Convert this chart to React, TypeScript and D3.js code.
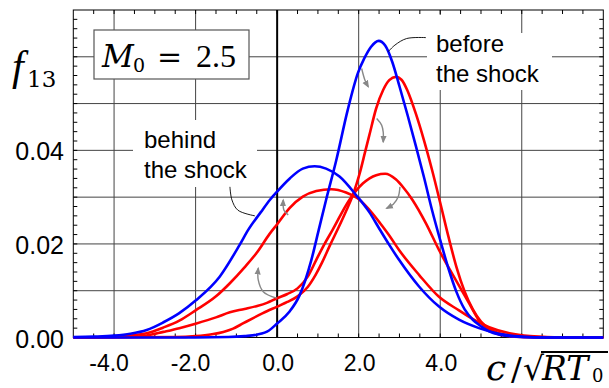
import React, { useRef, useEffect } from "react";
import * as d3 from "d3";

type Pt = [number, number];

// f13 vs c/sqrt(RT0)
const beforeShock: Pt[] = [
  [-5, 0], [-2, 0], [-1.2, 0.0001], [-0.8, 0.0003], [-0.5, 0.0006], [-0.2, 0.0015], [0, 0.003],
  [0.3, 0.0055], [0.55, 0.009], [0.84, 0.0166], [1.02, 0.023], [1.2, 0.0294], [1.45, 0.0379],
  [1.73, 0.0486], [1.98, 0.0565], [2.14, 0.0597], [2.3, 0.0621], [2.49, 0.0634], [2.65, 0.0624],
  [2.82, 0.059], [3.0, 0.0537], [3.2, 0.0475], [3.4, 0.041], [3.6, 0.0343], [3.8, 0.0272],
  [4.0, 0.0208], [4.2, 0.0148], [4.4, 0.0097], [4.6, 0.006], [4.8, 0.0038], [5.0, 0.0024],
  [5.2, 0.0013], [5.45, 0.0006], [5.8, 0.0002], [6.3, 0], [8, 0],
];

const stage1: Pt[] = [
  [-5, 0], [-2.5, 0.0001], [-2, 0.0003], [-1.6, 0.0007], [-1.32, 0.0012], [-1.08, 0.0019],
  [-0.84, 0.003], [-0.6, 0.0041], [-0.35, 0.0052], [0, 0.0066], [0.25, 0.0076], [0.5, 0.0088],
  [0.75, 0.0108], [0.95, 0.0135], [1.1, 0.016], [1.3, 0.0198], [1.5, 0.0234], [1.7, 0.0272],
  [1.85, 0.0303], [1.95, 0.0329], [2.05, 0.0359], [2.15, 0.0394], [2.26, 0.0432], [2.43, 0.049],
  [2.6, 0.0529], [2.75, 0.055], [2.91, 0.0557], [3.05, 0.0551], [3.2, 0.0527], [3.4, 0.0479],
  [3.6, 0.0422], [3.8, 0.0358], [4.0, 0.0288], [4.2, 0.0216], [4.4, 0.015], [4.6, 0.0098],
  [4.8, 0.006], [5.0, 0.0034], [5.2, 0.0019], [5.44, 0.0009], [5.8, 0.0003], [6.3, 0.0001],
  [7, 0], [8, 0],
];

const stage2: Pt[] = [
  [-5, 0], [-3.6, 0.0001], [-3.2, 0.0004], [-2.79, 0.0012], [-2.4, 0.002], [-1.98, 0.003],
  [-1.5, 0.0043], [-1.16, 0.0054], [-0.8, 0.0061], [-0.51, 0.0067], [-0.25, 0.0074], [0, 0.0084],
  [0.25, 0.0093], [0.5, 0.0105], [0.75, 0.013], [0.96, 0.0166], [1.15, 0.0198], [1.36, 0.023],
  [1.77, 0.0294], [2.1, 0.0329], [2.43, 0.0347], [2.65, 0.035], [2.91, 0.0338], [3.1, 0.032],
  [3.32, 0.0294], [3.65, 0.0244], [3.97, 0.0187], [4.38, 0.0123], [4.71, 0.0073], [4.95, 0.0037],
  [5.2, 0.0016], [5.5, 0.0005], [6, 0.0001], [6.5, 0], [8, 0],
];

const stage3: Pt[] = [
  [-5, 0], [-4.2, 0.0001], [-3.6, 0.0004], [-3.2, 0.0009], [-2.8, 0.0021], [-2.4, 0.0036],
  [-2, 0.0058], [-1.5, 0.0088], [-1.16, 0.0116], [-0.8, 0.015], [-0.51, 0.018], [-0.18, 0.0222],
  [0, 0.0242], [0.31, 0.0277], [0.63, 0.0301], [0.96, 0.0313], [1.33, 0.0317], [1.69, 0.031],
  [1.98, 0.0297], [2.34, 0.0265], [2.51, 0.0246], [2.75, 0.0218], [2.99, 0.0187], [3.48, 0.0134],
  [3.97, 0.0087], [4.46, 0.0058], [4.71, 0.0044], [5.2, 0.0022], [5.7, 0.0009], [6.2, 0.0003],
  [7, 0], [8, 0],
];

const behindShock: Pt[] = [
  [-5, 0.0001], [-4.5, 0.0002], [-4, 0.0004], [-3.6, 0.0008], [-3.2, 0.0016], [-2.8, 0.0032],
  [-2.4, 0.0052], [-2, 0.0079], [-1.41, 0.013], [-0.92, 0.0198], [-0.71, 0.023], [-0.4, 0.0268],
  [-0.18, 0.0294], [0, 0.0312], [0.31, 0.034], [0.63, 0.0361], [0.92, 0.0366], [1.2, 0.0361],
  [1.53, 0.0344], [1.94, 0.0304], [2.26, 0.0268], [2.51, 0.0232], [2.75, 0.0198], [2.99, 0.0166],
  [3.48, 0.0109], [3.97, 0.0066], [4.46, 0.0038], [4.95, 0.002], [5.44, 0.0008], [6, 0.0002],
  [6.6, 0], [8, 0],
];

const xTickLabels = [-4, -2, 0, 2, 4];
const yTickLabels = [0, 0.02, 0.04];
const xGrid = [-4, -2, 2, 4, 6];
const yGrid = [0.01, 0.02, 0.03, 0.04, 0.05, 0.06];

// gray evolution arrows (tail -> head), data units
const arrows: Pt[][] = [
  [[2.073, 0.0575], [2.154, 0.055], [2.234, 0.0536]],
  [[2.441, 0.0468], [2.563, 0.0454], [2.602, 0.0439], [2.602, 0.0418]],
  [[3.012, 0.0322], [2.97, 0.0301], [2.848, 0.0285], [2.686, 0.0276]],
  [[0.272, 0.0262], [0.167, 0.0272], [0.15, 0.0294]],
  [[-0.012, 0.0084], [-0.341, 0.0098], [-0.464, 0.0123], [-0.464, 0.0148]],
];

// thin black leader lines from the labels
const leaders: Pt[][] = [
  [[3.65, 0.0641], [3.176, 0.0639], [2.889, 0.0625], [2.725, 0.0611]],
  [[-1.158, 0.0322], [-1.109, 0.0294], [-0.961, 0.0272], [-0.545, 0.026]],
];

const W = 609;
const H = 388;

const App: React.FC = () => {
  const svgRef = useRef<SVGSVGElement | null>(null);

  useEffect(() => {
    document.body.style.margin = "0";
    if (!svgRef.current) return;
    const svg = d3.select(svgRef.current);
    svg.selectAll("*").remove();

    const x = d3.scaleLinear().domain([-5, 8]).range([73.3, 603.3]);
    const y = d3.scaleLinear().domain([0, 0.07]).range([337.5, 10]);
    const [x0, x1] = x.range();
    const [y0, y1] = y.range();

    svg.append("rect").attr("width", W).attr("height", H).attr("fill", "#fff");

    const defs = svg.append("defs");
    defs.append("marker")
      .attr("id", "ah")
      .attr("viewBox", "0 0 10 10")
      .attr("refX", 8).attr("refY", 5)
      .attr("markerWidth", 5.5).attr("markerHeight", 5.5)
      .attr("orient", "auto")
      .append("path").attr("d", "M0,1 L10,5 L0,9 z").attr("fill", "#888");

    // grid
    const grid = svg.append("g").attr("stroke", "#444").attr("stroke-width", 1);
    grid.selectAll("line.v").data(xGrid).join("line")
      .attr("x1", d => x(d)).attr("x2", d => x(d)).attr("y1", y0).attr("y2", y1);
    grid.selectAll("line.h").data(yGrid).join("line")
      .attr("x1", x0).attr("x2", x1).attr("y1", d => y(d)).attr("y2", d => y(d));

    // white label backgrounds that cut the grid
    const bg = svg.append("g").attr("fill", "#fff");
    bg.append("rect").attr("x", 133).attr("y", 120).attr("width", 124).attr("height", 67);
    bg.append("rect").attr("x", 427).attr("y", 15).attr("width", 85).attr("height", 43);
    bg.append("rect").attr("x", 427).attr("y", 33).attr("width", 125).attr("height", 57);

    // zero line
    svg.append("line")
      .attr("x1", x(0)).attr("x2", x(0)).attr("y1", y0).attr("y2", y1)
      .attr("stroke", "#000").attr("stroke-width", 2);

    // frame + minor ticks
    svg.append("rect")
      .attr("x", x0).attr("y", y1).attr("width", x1 - x0).attr("height", y0 - y1)
      .attr("fill", "none").attr("stroke", "#000").attr("stroke-width", 1);
    const ticks = svg.append("g").attr("stroke", "#000").attr("stroke-width", 1);
    const xMinor = d3.range(-4.5, 8, 0.5);
    const yMinor = d3.range(0.002, 0.07, 0.002);
    ticks.selectAll("line.xt").data(xMinor).join("line")
      .attr("x1", d => x(d)).attr("x2", d => x(d)).attr("y1", y1).attr("y2", y1 + 4);
    ticks.selectAll("line.xb").data(xMinor).join("line")
      .attr("x1", d => x(d)).attr("x2", d => x(d)).attr("y1", y0).attr("y2", y0 - 4);
    ticks.selectAll("line.yl").data(yMinor).join("line")
      .attr("x1", x0).attr("x2", x0 + 4).attr("y1", d => y(d)).attr("y2", d => y(d));
    ticks.selectAll("line.yr").data(yMinor).join("line")
      .attr("x1", x1).attr("x2", x1 - 4).attr("y1", d => y(d)).attr("y2", d => y(d));

    // M0 box
    svg.append("rect")
      .attr("x", 94).attr("y", 30).attr("width", 155).attr("height", 49)
      .attr("fill", "#fff").attr("stroke", "#555").attr("stroke-width", 1.2);
    svg.append("text").attr("x", 102).attr("y", 66.7)
      .attr("font-family", "DejaVu Serif").attr("font-style", "italic").attr("font-size", 31)
      .text("M");
    svg.append("text").attr("x", 133).attr("y", 72)
      .attr("font-family", "DejaVu Serif").attr("font-size", 19).text("0");
    svg.append("text").attr("x", 157).attr("y", 66.7)
      .attr("font-family", "DejaVu Serif").attr("font-size", 30).text("=");
    svg.append("text").attr("x", 196).attr("y", 66.7)
      .attr("font-family", "Liberation Serif").attr("font-size", 32).text("2.5");

    // curves
    const line = d3.line<Pt>()
      .x(d => x(d[0]))
      .y(d => y(d[1]))
      .curve(d3.curveMonotoneX);
    const series: { data: Pt[]; color: string }[] = [
      { data: stage3, color: "#ff0000" },
      { data: stage2, color: "#ff0000" },
      { data: stage1, color: "#ff0000" },
      { data: behindShock, color: "#0000ff" },
      { data: beforeShock, color: "#0000ff" },
    ];
    svg.append("g").selectAll("path").data(series).join("path")
      .attr("d", d => line(d.data) as string)
      .attr("fill", "none")
      .attr("stroke", d => d.color)
      .attr("stroke-width", 2.6)
      .attr("stroke-linejoin", "round");

    // arrows and leaders
    const smooth = d3.line<Pt>()
      .x(d => x(d[0]))
      .y(d => y(d[1]))
      .curve(d3.curveCatmullRom);
    svg.append("g").selectAll("path").data(arrows).join("path")
      .attr("d", d => smooth(d) as string)
      .attr("fill", "none").attr("stroke", "#888").attr("stroke-width", 1.4)
      .attr("marker-end", "url(#ah)");
    svg.append("g").selectAll("path").data(leaders).join("path")
      .attr("d", d => smooth(d) as string)
      .attr("fill", "none").attr("stroke", "#000").attr("stroke-width", 0.9);

    // annotation text
    const ann = svg.append("g")
      .attr("font-family", "Liberation Sans").attr("font-size", 24).attr("fill", "#000");
    ann.append("text").attr("x", 144).attr("y", 148).text("behind");
    ann.append("text").attr("x", 144).attr("y", 178).text("the shock");
    ann.append("text").attr("x", 436).attr("y", 52).text("before");
    ann.append("text").attr("x", 436).attr("y", 82).text("the shock");

    // tick labels
    const fmtX = d3.format(".1f");
    svg.append("g")
      .attr("font-family", "Liberation Sans").attr("font-size", 23).attr("text-anchor", "middle")
      .selectAll("text").data(xTickLabels).join("text")
      .attr("x", d => x(d) + (d < 0 ? -5 : 1))
      .attr("y", 371)
      .text(d => fmtX(d).replace("\u2212", "-"));
    const fmtY = d3.format(".2f");
    svg.append("g")
      .attr("font-family", "Liberation Sans").attr("font-size", 25).attr("text-anchor", "end")
      .selectAll("text").data(yTickLabels).join("text")
      .attr("x", 64)
      .attr("y", d => y(d) + 10)
      .text(d => fmtY(d));

    // axis titles
    svg.append("text").attr("x", 12).attr("y", 80)
      .attr("font-family", "Liberation Serif").attr("font-style", "italic").attr("font-size", 42)
      .text("f");
    svg.append("text").attr("x", 27).attr("y", 87)
      .attr("font-family", "DejaVu Serif").attr("font-size", 23).text("13");

    svg.append("text").attr("x", 486).attr("y", 380)
      .attr("font-family", "DejaVu Serif").attr("font-style", "italic").attr("font-size", 36)
      .text("c");
    svg.append("text").attr("x", 511).attr("y", 380)
      .attr("font-family", "DejaVu Serif").attr("font-size", 32).text("/");
    svg.append("text").attr("x", 523).attr("y", 380)
      .attr("font-family", "DejaVu Sans").attr("font-size", 33).text("√");
    svg.append("line").attr("x1", 541).attr("x2", 608).attr("y1", 352).attr("y2", 352)
      .attr("stroke", "#000").attr("stroke-width", 1.8);
    svg.append("text").attr("x", 542).attr("y", 380)
      .attr("font-family", "DejaVu Serif").attr("font-style", "italic").attr("font-size", 33)
      .text("RT");
    svg.append("text").attr("x", 592).attr("y", 382)
      .attr("font-family", "DejaVu Serif").attr("font-size", 18).text("0");
  }, []);

  return <svg ref={svgRef} width={W} height={H} style={{ display: "block" }} />;
};

export default App;
